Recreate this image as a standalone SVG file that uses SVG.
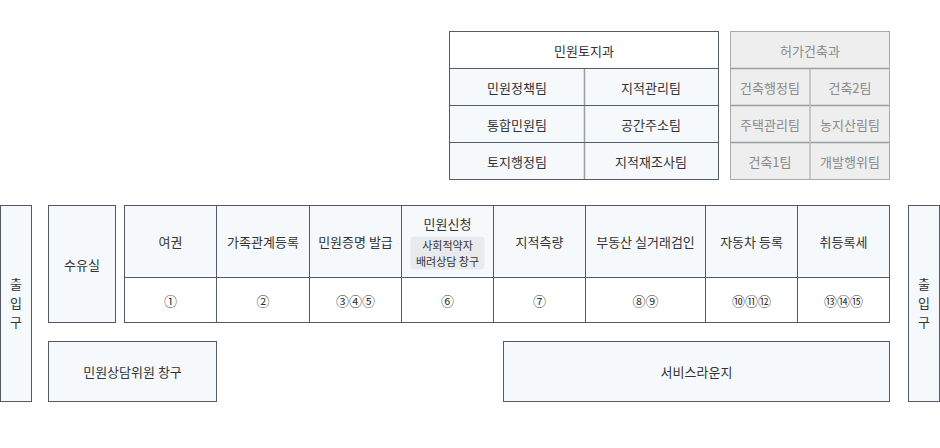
<svg xmlns="http://www.w3.org/2000/svg" width="940" height="448" viewBox="0 0 940 448">
<style>
text{font-family:"Noto Sans CJK KR","Noto Sans",sans-serif;font-size:13px;fill:#333;text-anchor:middle;dominant-baseline:central}
.b{fill:#f5f9fc;stroke:#555a68;stroke-width:1}
.w{fill:#ffffff;stroke:#555a68;stroke-width:1}
.ln{stroke:#555a68;stroke-width:1;fill:none}
.ln2{stroke:#9a9ea6;stroke-width:1.5;fill:none}
.g{fill:#eeeeee;stroke:#aaaaaa;stroke-width:1}
.lg{stroke:#bbbbbb;stroke-width:1.5;fill:none}
.gt{fill:#8a8a8a}
.badge{fill:#e8eaed}
.sm{font-size:11px}
</style>
<rect width="940" height="448" fill="#ffffff"/>

<g id="dept-minwon-toji">
<rect class="b" x="449.5" y="31.5" width="269" height="148"/>
<rect class="w" x="449.5" y="31.5" width="269" height="37"/>
<line class="ln2" x1="584.5" y1="69" x2="584.5" y2="179"/>
<line class="ln" x1="449.5" y1="105.5" x2="718.5" y2="105.5"/>
<line class="ln" x1="449.5" y1="142.5" x2="718.5" y2="142.5"/>
<text x="584" y="50">민원토지과</text>
<text x="517" y="87">민원정책팀</text>
<text x="651" y="87">지적관리팀</text>
<text x="517" y="124">통합민원팀</text>
<text x="651" y="124">공간주소팀</text>
<text x="517" y="161">토지행정팀</text>
<text x="651" y="161">지적재조사팀</text>
</g>

<g id="dept-heoga">
<rect class="g" x="730.5" y="31.5" width="159" height="148"/>
<line class="ln2" x1="730.5" y1="68.5" x2="889.5" y2="68.5"/>
<line class="ln2" x1="730.5" y1="105.5" x2="889.5" y2="105.5"/>
<line class="ln2" x1="730.5" y1="142.5" x2="889.5" y2="142.5"/>
<line class="lg" x1="810" y1="69" x2="810" y2="179"/>
<text class="gt" x="810" y="50">허가건축과</text>
<text class="gt" x="770" y="87">건축행정팀</text>
<text class="gt" x="850" y="87">건축2팀</text>
<text class="gt" x="770" y="124">주택관리팀</text>
<text class="gt" x="850" y="124">농지산림팀</text>
<text class="gt" x="770" y="161">건축1팀</text>
<text class="gt" x="850" y="161">개발행위팀</text>
</g>

<g id="entrance-left">
<rect class="b" x="0.5" y="205.5" width="31" height="196"/>
<text x="16" y="283">출</text>
<text x="16" y="302">입</text>
<text x="16" y="321">구</text>
</g>

<g id="nursing-room">
<rect class="b" x="48.5" y="205.5" width="67" height="117"/>
<text x="82" y="264">수유실</text>
</g>

<g id="counters">
<rect class="w" x="124.5" y="205.5" width="765" height="117"/>
<rect class="b" x="124.5" y="205.5" width="765" height="72"/>
<line class="ln" x1="216.5" y1="205.5" x2="216.5" y2="322.5"/>
<line class="ln" x1="309.5" y1="205.5" x2="309.5" y2="322.5"/>
<line class="ln" x1="401.5" y1="205.5" x2="401.5" y2="322.5"/>
<line class="ln" x1="493.5" y1="205.5" x2="493.5" y2="322.5"/>
<line class="ln" x1="585.5" y1="205.5" x2="585.5" y2="322.5"/>
<line class="ln" x1="705.5" y1="205.5" x2="705.5" y2="322.5"/>
<line class="ln" x1="797.5" y1="205.5" x2="797.5" y2="322.5"/>
<text x="170.5" y="241.5">여권</text>
<text x="263" y="241.5">가족관계등록</text>
<text x="355.5" y="241.5">민원증명 발급</text>
<text x="447.5" y="223">민원신청</text>
<rect class="badge" x="410.5" y="236.5" width="74" height="33" rx="4"/>
<text class="sm" x="447.5" y="245">사회적약자</text>
<text class="sm" x="447.5" y="261">배려상담 창구</text>
<text x="539.5" y="241.5">지적측량</text>
<text x="645.5" y="241.5">부동산 실거래검인</text>
<text x="751.5" y="241.5">자동차 등록</text>
<text x="843.5" y="241.5">취등록세</text>
<text x="170.5" y="300">①</text>
<text x="263" y="300">②</text>
<text x="355.5" y="300">③④⑤</text>
<text x="447.5" y="300">⑥</text>
<text x="539.5" y="300">⑦</text>
<text x="645.5" y="300">⑧⑨</text>
<text x="751.5" y="300">⑩⑪⑫</text>
<text x="843.5" y="300">⑬⑭⑮</text>
</g>

<g id="counselor-window">
<rect class="b" x="48.5" y="341.5" width="168" height="60"/>
<text x="132.5" y="371.5">민원상담위원 창구</text>
</g>

<g id="service-lounge">
<rect class="b" x="503.5" y="341.5" width="386" height="60"/>
<text x="696.5" y="371.5">서비스라운지</text>
</g>

<g id="entrance-right">
<rect class="b" x="908.5" y="205.5" width="31" height="196"/>
<text x="924" y="283">출</text>
<text x="924" y="302">입</text>
<text x="924" y="321">구</text>
</g>

<g id="connectors"></g>
</svg>
